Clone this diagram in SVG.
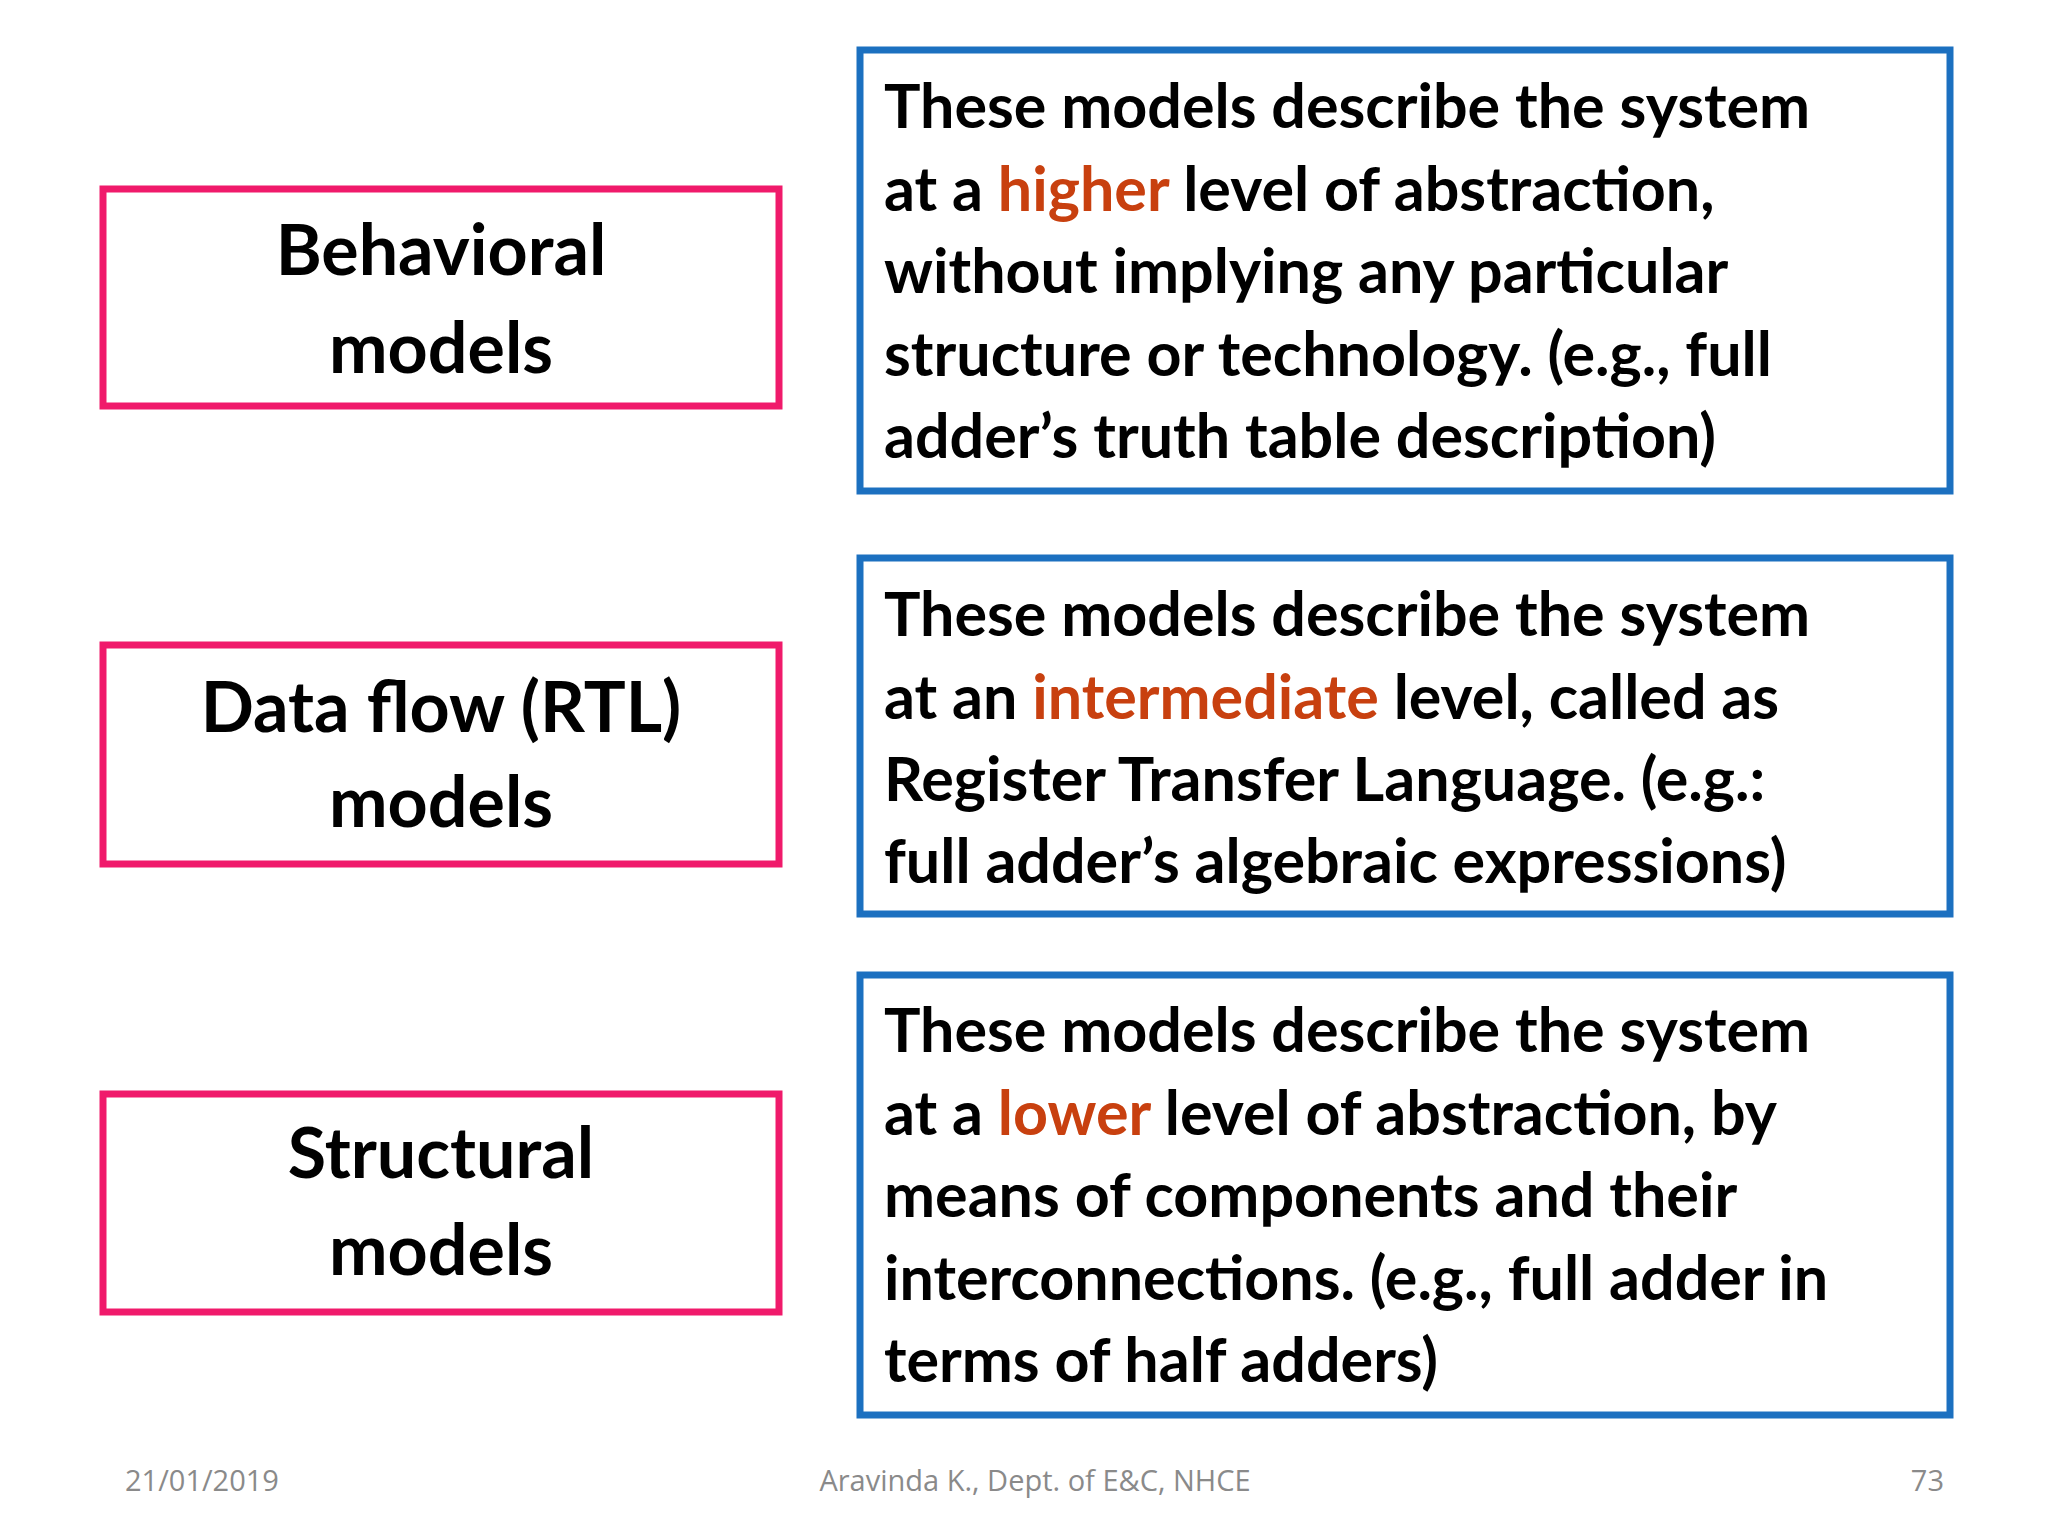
<svg xmlns="http://www.w3.org/2000/svg" width="2048" height="1536" viewBox="0 0 2048 1536">
<style>
.l{fill:#fff;stroke:#F01A6B;stroke-width:7}
.r{fill:#fff;stroke:#1C70C0;stroke-width:7}
.lt{font-family:Lato,"Open Sans",sans-serif;font-weight:bold;font-size:70px;fill:#000;text-anchor:middle}
.rt{font-family:Lato,"Open Sans",sans-serif;font-weight:bold;font-size:61px;fill:#000}
.h{fill:#C8400F}
.f{font-family:"Open Sans",sans-serif;font-size:29px;fill:#8a8a8a}
</style>
<rect width="2048" height="1536" fill="#fff"/>
<g id="behavioral"><rect class="l" x="103" y="189" width="676" height="217"/>
<text class="lt" x="441" y="275">Behavioral</text><text class="lt" x="441" y="373">models</text></g>
<g id="dataflow"><rect class="l" x="103" y="645" width="676" height="219"/>
<text class="lt" x="441" y="732">Data flow (RTL)</text><text class="lt" x="441" y="827">models</text></g>
<g id="structural"><rect class="l" x="103" y="1094" width="676" height="218"/>
<text class="lt" x="441" y="1178">Structural</text><text class="lt" x="441" y="1275">models</text></g>
<g id="desc1"><rect class="r" x="860" y="50" width="1090" height="441"/>
<text class="rt" x="884" y="128">These models describe the system</text>
<text class="rt" x="884" y="211">at a <tspan class="h">higher</tspan> level of abstraction,</text>
<text class="rt" x="884" y="293">without implying any particular</text>
<text class="rt" x="884" y="376">structure or technology. (e.g., full</text>
<text class="rt" x="884" y="458">adder’s truth table description)</text></g>
<g id="desc2"><rect class="r" x="860" y="558" width="1090" height="356"/>
<text class="rt" x="884" y="636">These models describe the system</text>
<text class="rt" x="884" y="719">at an <tspan class="h">intermediate</tspan> level, called as</text>
<text class="rt" x="884" y="801">Register Transfer Language. (e.g.:</text>
<text class="rt" x="884" y="883">full adder’s algebraic expressions)</text></g>
<g id="desc3"><rect class="r" x="860" y="975" width="1090" height="440"/>
<text class="rt" x="884" y="1052">These models describe the system</text>
<text class="rt" x="884" y="1135">at a <tspan class="h">lower</tspan> level of abstraction, by</text>
<text class="rt" x="884" y="1217">means of components and their</text>
<text class="rt" x="884" y="1300">interconnections. (e.g., full adder in</text>
<text class="rt" x="884" y="1382">terms of half adders)</text></g>
<g id="connectors"/>
<g id="footer">
<text class="f" x="125" y="1491">21/01/2019</text>
<text class="f" x="1035" y="1491" text-anchor="middle">Aravinda K., Dept. of E&amp;C, NHCE</text>
<text class="f" x="1944" y="1491" text-anchor="end">73</text></g>
</svg>
